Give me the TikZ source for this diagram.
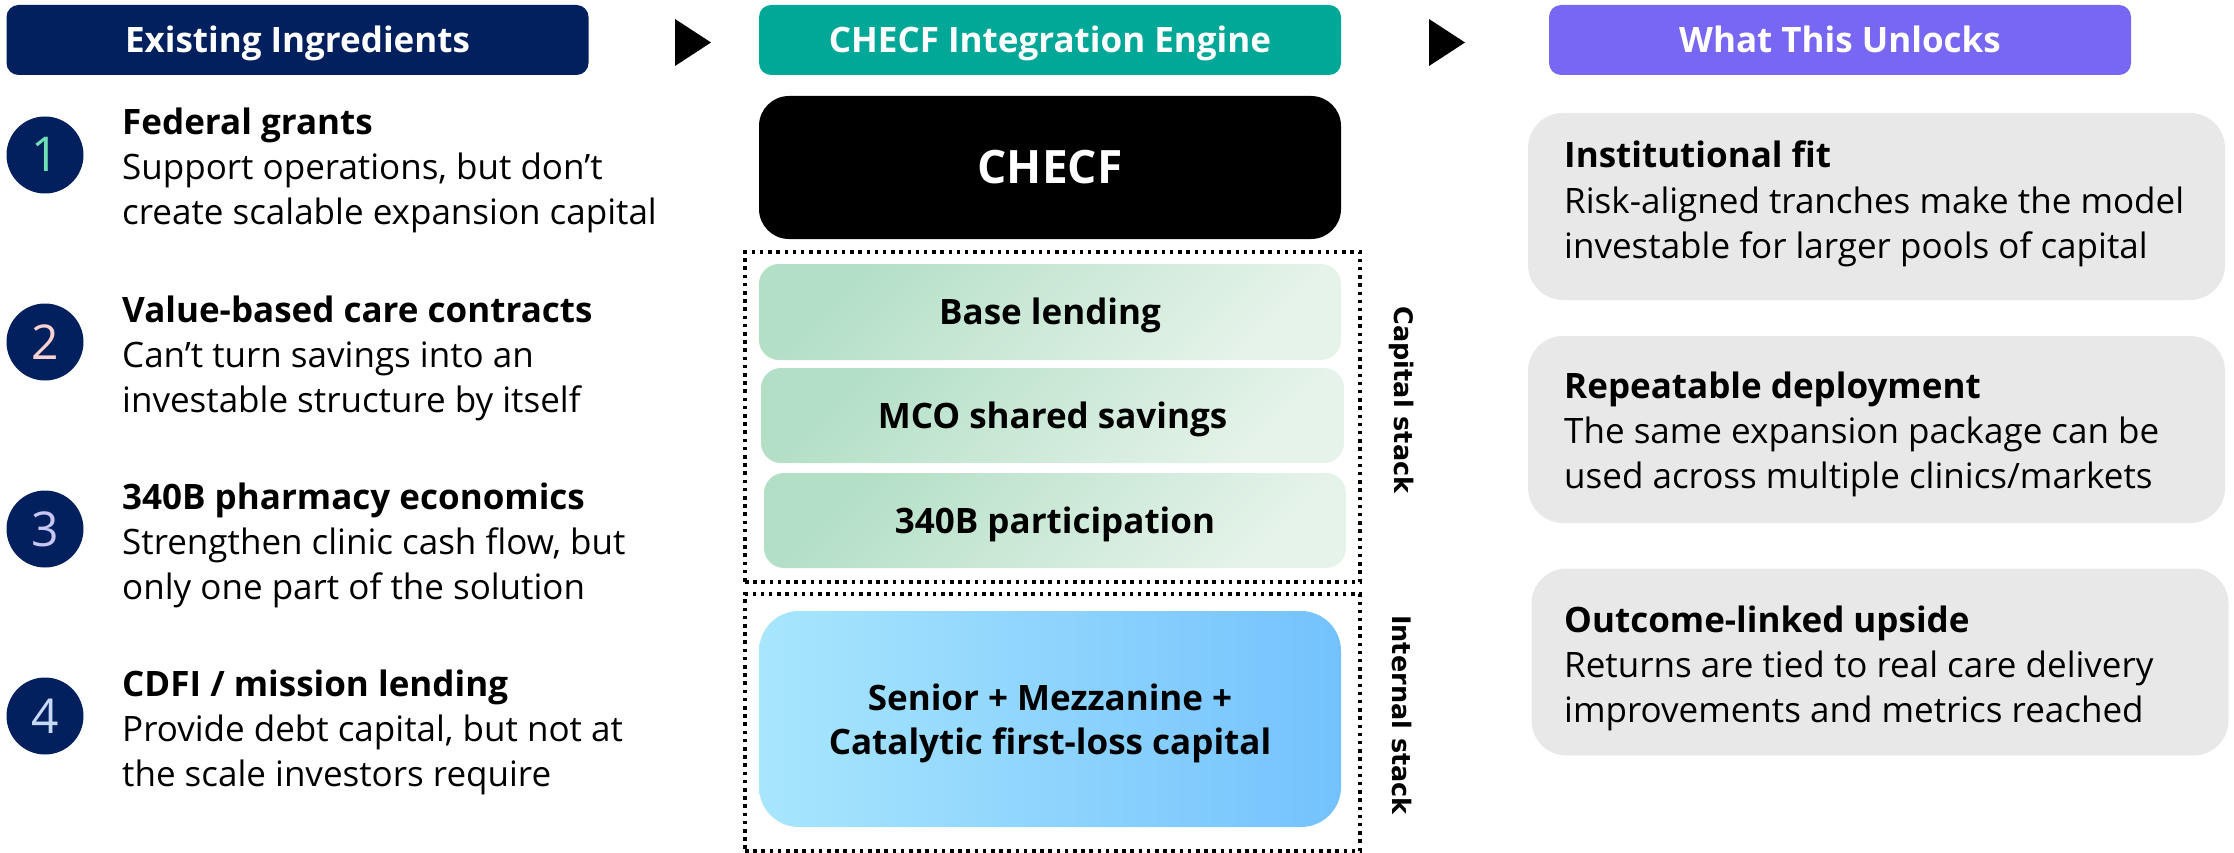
\documentclass[tikz,border=0pt]{standalone}
\usepackage{fontspec}
\setmainfont{Open Sans}
\newfontfamily\dejavu{DejaVu Sans}
\definecolor{navy}{HTML}{03205E}
\definecolor{tealh}{HTML}{02A897}
\definecolor{purph}{HTML}{7767F2}
\definecolor{cardgray}{HTML}{E8E8E8}
\definecolor{gA}{HTML}{B3DFC6}
\definecolor{gB}{HTML}{E6F3EA}
\definecolor{bA}{HTML}{A8E6FD}
\definecolor{bB}{HTML}{74C2FD}
\definecolor{dA}{HTML}{6EE0B4}
\definecolor{dB}{HTML}{F9D3D0}
\definecolor{dC}{HTML}{C8C6F3}
\definecolor{dD}{HTML}{C6D9F6}
\tikzset{
  hdr/.style={rounded corners=12pt, minimum width=582pt, minimum height=70pt, inner sep=0pt,
    text=white, font=\fontsize{35}{42}\selectfont\bfseries, text height=25pt, text depth=0pt},
  numcirc/.style={circle, fill=navy, minimum size=77pt, inner sep=0pt,
    font=\fontsize{48}{48}\selectfont, text height=34pt, text depth=0pt},
  ttl/.style={anchor=base west, inner sep=0pt, font=\fontsize{35}{42}\selectfont\bfseries},
  bdy/.style={anchor=base west, inner sep=0pt, font=\fontsize{35}{42}\selectfont},
  stackbox/.style={rounded corners=20pt, minimum width=582pt, minimum height=96pt, inner sep=0pt,
    top color=gA, bottom color=gB, shading angle=45,
    font=\fontsize{35}{42}\selectfont\bfseries, text height=25pt, text depth=0pt},
  dotbox/.style={draw=black, line width=3.5pt, dash pattern=on 3.5pt off 4.7pt, inner sep=0pt},
  sidelabel/.style={rotate=-90, inner sep=0pt, font={\dejavu\bfseries\fontsize{25.5}{30}\selectfont}},
  card/.style={rounded corners=35pt, fill=cardgray, minimum width=697pt, minimum height=187pt, inner sep=0pt},
  arrowtip/.style={fill=black}
}
\newcommand\ingr[7]{%
  \node[numcirc, text=#3] (#1c) at (45,#4) {#2};
  \node[ttl] (#1t) at (122,{#4-20}) {#5};
  \node[bdy] (#1a) at (122,{#4+25}) {#6};
  \node[bdy] (#1b) at (122,{#4+70}) {#7};
}
\newcommand\unlock[5]{%
  \node[ttl] (#1t) at (1564,#2) {#3};
  \node[bdy] (#1a) at (1564,{#2+45}) {#4};
  \node[bdy] (#1b) at (1564,{#2+90}) {#5};
}
\begin{document}
\begin{tikzpicture}[x=1pt,y=-1pt]
\useasboundingbox (0,0) rectangle (2234,853);

% headers
\node[hdr, fill=navy] (h1) at (297.5,40) {Existing Ingredients};
\node[hdr, fill=tealh] (h2) at (1050,40) {CHECF Integration Engine};
\node[hdr, fill=purph] (h3) at (1840,40) {What This Unlocks};

% arrows between headers
\fill[arrowtip] (675,19) -- (711,42.5) -- (675,66) -- cycle;
\fill[arrowtip] (1429,19) -- (1465,42.5) -- (1429,66) -- cycle;

% left column
\ingr{i1}{1}{dA}{155}{Federal grants}{Support operations, but don’t}{create scalable expansion capital}
\ingr{i2}{2}{dB}{342}{Value-based care contracts}{Can’t turn savings into an}{investable structure by itself}
\ingr{i3}{3}{dC}{529}{340B pharmacy economics}{Strengthen clinic cash flow, but}{only one part of the solution}
\ingr{i4}{4}{dD}{716}{CDFI / mission lending}{Provide debt capital, but not at}{the scale investors require}

% center column
\node[rounded corners=30pt, fill=black, minimum width=582pt, minimum height=143pt, inner sep=0pt,
  text=white, font=\fontsize{46}{50}\selectfont\bfseries, text height=33pt, text depth=0pt]
  (checf) at (1050,167.5) {CHECF};

\node[dotbox, minimum width=615pt, minimum height=330pt] (capbox) at (1052.5,417) {};
\node[dotbox, minimum width=615pt, minimum height=257pt] (intbox) at (1052.5,722.5) {};

\node[stackbox] (base) at (1050,312) {Base lending};
\node[stackbox, minimum width=583pt, minimum height=95pt] (mco) at (1052.5,415.5) {MCO shared savings};
\node[stackbox, minimum height=95pt] (p340) at (1055,520.5) {340B participation};

\node[rounded corners=40pt, left color=bA, right color=bB, minimum width=582pt, minimum height=216pt,
  inner sep=0pt] (senior) at (1050,719) {};
\node[inner sep=0pt, align=center, font=\fontsize{35}{44}\selectfont\bfseries]
  (seniortxt) at (1050,723) {Senior + Mezzanine +\\Catalytic first-loss capital};

\node[sidelabel] (caplab) at (1402,400) {Capital stack};
\node[sidelabel] (intlab) at (1402,715) {Internal stack};

% right column
\node[card] (c1) at (1876.5,206.5) {};
\node[card] (c2) at (1876.5,429.5) {};
\node[card] (c3) at (1880,662) {};
\unlock{u1}{168}{Institutional fit}{Risk-aligned tranches make the model}{investable for larger pools of capital}
\unlock{u2}{398}{Repeatable deployment}{The same expansion package can be}{used across multiple clinics/markets}
\unlock{u3}{632}{Outcome-linked upside}{Returns are tied to real care delivery}{improvements and metrics reached}
\end{tikzpicture}
\end{document}
